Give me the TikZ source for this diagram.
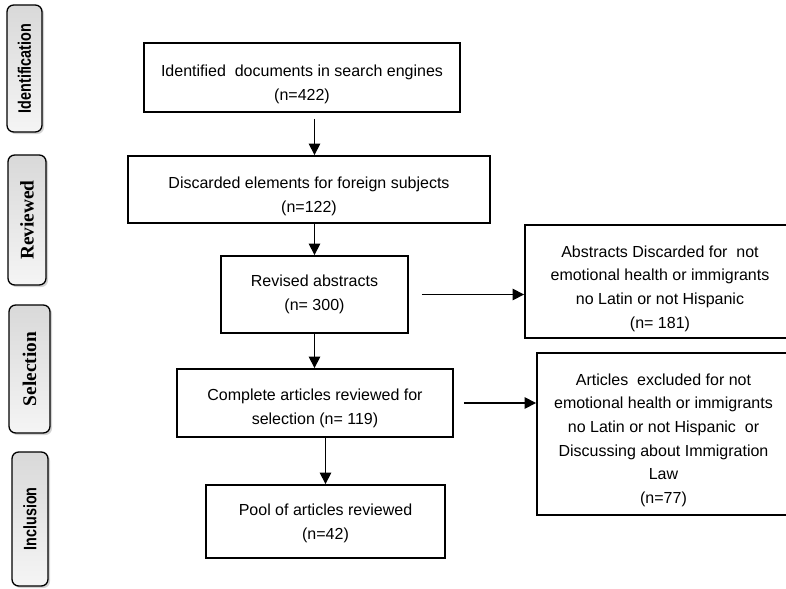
\documentclass[tikz,border=0pt]{standalone}
\usepackage{fontspec}
\setmainfont{Liberation Sans}
\newfontfamily\stageserif{Liberation Serif}
\usetikzlibrary{arrows.meta,calc,shadows}

% strut that pushes the text of a box down by #1 px
\newcommand{\lowerby}[1]{\rule{0pt}{\dimexpr 8.8pt+#1pt*3/2\relax}}

\tikzset{every picture/.style={line width=0.75pt}}
\tikzset{
	flowbox/.style={draw, line width=1.4pt, align=center, inner sep=0pt, font=\fontsize{12}{17.7}\selectfont},
	stagebox/.style={draw, line width=1pt, rounded corners=5pt, rotate=90, inner sep=0pt,
		top color=gray!30, bottom color=gray!8,
		drop shadow={shadow xshift=1.5pt, shadow yshift=-1.5pt, opacity=0.35}},
	stagesans/.style={font=\fontsize{13.5}{15}\selectfont\bfseries},
	stagetimes/.style={font=\fontsize{14.5}{16}\selectfont\stageserif\bfseries},
	arr/.style={-{Triangle[length=8.5pt,width=8.5pt]}, line width=1.1pt}
}

\begin{document}
\begin{tikzpicture}[x=0.75pt,y=0.75pt,yscale=-1,xscale=1]
	\useasboundingbox (0,0) rectangle (786,589);

	% Stage labels
	\node[stagebox, stagesans, minimum width=127*0.75pt, minimum height=35*0.75pt] (sident) at (24.5,68.5) {\scalebox{0.8}[1]{Identification}};
	\node[stagebox, stagetimes, minimum width=130*0.75pt, minimum height=38*0.75pt] (sreview) at (27,220) {Reviewed};
	\node[stagebox, stagetimes, minimum width=128*0.75pt, minimum height=41*0.75pt] (sselect) at (29.5,369) {Selection};
	\node[stagebox, stagesans, minimum width=134*0.75pt, minimum height=36*0.75pt] (sinclude) at (30,519) {\scalebox{0.8}[1]{Inclusion}};

	% Main column
	\node[flowbox, minimum width=316*0.75pt, minimum height=69*0.75pt] (found) at (302,77.5) {\lowerby{7}Identified\ \ documents in search engines\\(n=422)};
	\node[flowbox, minimum width=362*0.75pt, minimum height=67*0.75pt] (foreign) at (309,189.5) {\lowerby{7}Discarded elements for foreign subjects\\(n=122)};
	\node[flowbox, minimum width=187*0.75pt, minimum height=77*0.75pt] (abstracts) at (314.5,294.5) {Revised abstracts\\(n= 300)};
	\node[flowbox, minimum width=276*0.75pt, minimum height=68*0.75pt] (complete) at (315,403) {\lowerby{5}Complete articles reviewed for\\selection (n= 119)};
	\node[flowbox, minimum width=239*0.75pt, minimum height=73*0.75pt] (pool) at (325.5,521.5) {\lowerby{2}Pool of articles reviewed\\(n=42)};

	% Excluded boxes
	\node[flowbox, minimum width=270*0.75pt, minimum height=113*0.75pt] (absout) at (660,281.5) {\lowerby{7}Abstracts Discarded for\ \ not\\emotional health or immigrants\\no Latin or not Hispanic\\(n= 181)};
	\node[flowbox, minimum width=253*0.75pt, minimum height=162*0.75pt] (artout) at (663.5,434) {\lowerby{6}Articles\ \ excluded for not\\emotional health or immigrants\\no Latin or not Hispanic\ \ or\\Discussing about Immigration\\Law\\(n=77)};

	% Arrows
	\draw[arr] ($(found.south -| abstracts)+(0,6)$) -- (foreign.north -| abstracts);
	\draw[arr] (foreign.south -| abstracts) -- (abstracts.north);
	\draw[arr] (abstracts.south) -- (complete.north -| abstracts);
	\draw[arr] (complete.south -| pool) -- (pool.north);
	\draw[arr] ($(abstracts.east)+(13,0)$) -- (absout.west |- abstracts);
	\draw[arr] ($(complete.east)+(10,0)$) -- (artout.west |- complete);

\end{tikzpicture}
\end{document}
